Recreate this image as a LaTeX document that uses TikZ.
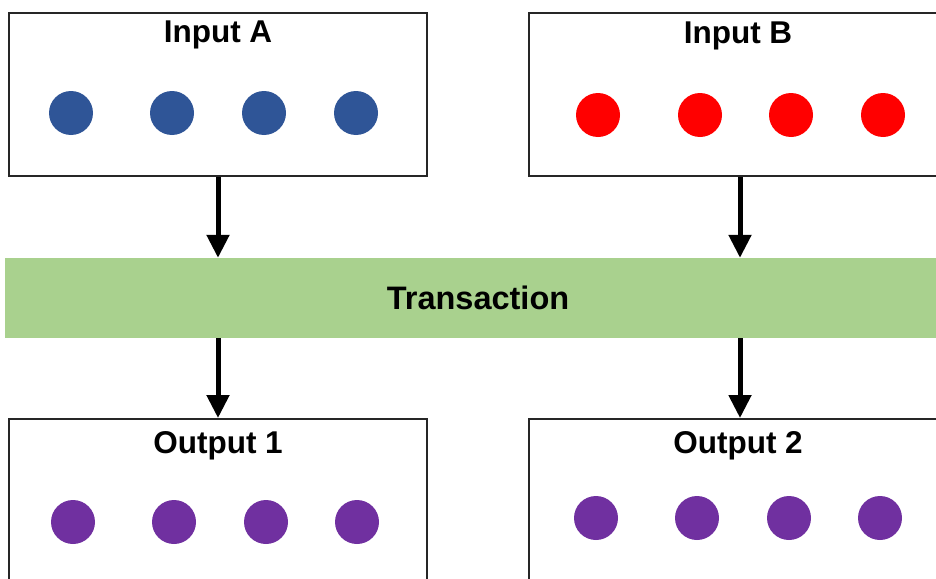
\documentclass[tikz,border=0pt]{standalone}
\usepackage{fontspec}
\setmainfont{Liberation Sans}
\usetikzlibrary{arrows.meta}
\definecolor{dotblue}{HTML}{2F5597}
\definecolor{dotred}{HTML}{FF0000}
\definecolor{dotpurple}{HTML}{7030A0}
\definecolor{txgreen}{HTML}{A9D18E}

\begin{document}
\begin{tikzpicture}[x=1pt,y=-1pt,
        box/.style={draw=black!85, line width=2pt, minimum width=418pt, minimum height=163pt, inner sep=0pt},
        title/.style={anchor=base, font=\bfseries\fontsize{31.5}{36}\selectfont},
        dot/.style={circle, fill=#1, minimum size=44pt, inner sep=0pt},
        flow/.style={line width=5pt, -{Triangle[width=22pt,length=23pt]}}]
        \useasboundingbox (0,0) rectangle (936,578);
        % boxes
        \node[box] (inA) at (218,94.5) {};
        \node[box] (inB) at (738,94.5) {};
        \node[box] (outA) at (218,500.5) {};
        \node[box] (outB) at (738,500.5) {};
        \node[fill=txgreen, minimum width=946pt, minimum height=80pt, inner sep=0pt,
              font=\bfseries\fontsize{32.5}{36}\selectfont] (tx) at (478,298) {Transaction};
        % titles
        \node[title] (tA) at (218,43) {Input A};
        \node[title] (tB) at (738,44) {Input B};
        \node[title] (t1) at (218,453) {Output 1};
        \node[title] (t2) at (738,453) {Output 2};
        % coins
        \foreach \x [count=\i] in {71,172,264,356} \node[dot=dotblue] (a\i) at (\x,113) {};
        \foreach \x [count=\i] in {598,700,791,883} \node[dot=dotred] (b\i) at (\x,115) {};
        \foreach \x [count=\i] in {73,174,266,357} \node[dot=dotpurple] (c\i) at (\x,522) {};
        \foreach \x [count=\i] in {596,697,789,880} \node[dot=dotpurple] (d\i) at (\x,518) {};
        % flows
        \draw[flow] (inA) -- (inA |- tx.north);
        \draw[flow] ([xshift=2pt]inB.south) -- ([xshift=2pt]inB.south |- tx.north);
        \draw[flow] (tx.south -| outA) -- (outA);
        \draw[flow] ([xshift=2pt]tx.south -| outB) -- ([xshift=2pt]outB.north);
      \end{tikzpicture}
\end{document}
